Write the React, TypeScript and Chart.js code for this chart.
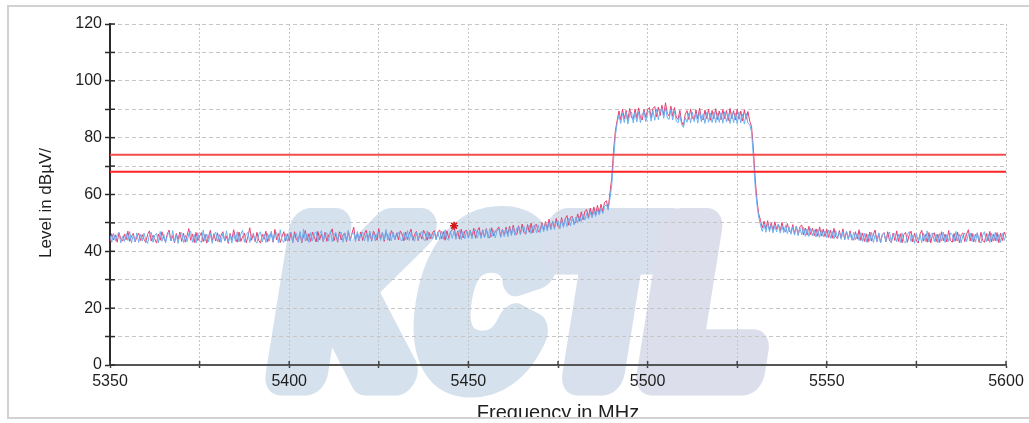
import React, { useEffect, useRef } from 'react';
import { Chart, registerables } from 'chart.js';

Chart.register(...registerables);

// ---- data ----
const FREQ_START_MHZ = 5350;
const FREQ_STEP_MHZ = 0.5;
const X_MIN = 5350;
const X_MAX = 5600;
const X_TICK_STEP = 25;
const X_LABEL_EVERY = 50;
const Y_MIN = 0;
const Y_MAX = 120;
const Y_TICK_STEP = 10;
const Y_LABEL_EVERY = 20;
const X_TITLE = 'Frequency in MHz';
const Y_TITLE = 'Level in dBµV/';
const LIMIT_LEVELS = [74, 68];
const MARKER_FREQ = 5446;
const MARKER_LEVEL = 49;
const WATERMARK_TEXT = 'KCTL';

// pink trace, 0.5 MHz per value, 5350 .. 5600
const TRACE_PINK = [
  43.4, 46.2, 44.0, 45.8, 43.2, 46.6, 44.4, 43.6, 46.0, 44.1, 47.1, 43.5, 45.4, 46.3, 43.3, 45.0, 46.4, 43.8, 45.9, 44.2,
  43.1, 46.0, 47.2, 43.6, 45.7, 44.3, 42.9, 46.1, 43.9, 46.9, 44.6, 43.4, 46.2, 47.5, 43.7, 45.5, 43.0, 46.3, 44.1, 46.8,
  43.5, 46.4, 43.2, 45.6, 48.0, 43.9, 46.1, 43.1, 46.7, 43.8, 45.3, 46.6, 43.4, 46.0, 42.9, 45.2, 47.4, 43.7, 46.2, 43.6,
  46.5, 43.3, 45.7, 46.9, 43.6, 45.4, 42.8, 46.3, 44.0, 47.6, 44.9, 43.2, 46.8, 43.5, 45.1, 46.4, 43.0, 45.3, 48.3, 43.9,
  46.1, 43.4, 46.7, 43.9, 42.9, 46.0, 44.2, 47.1, 43.3, 45.6, 46.5, 43.2, 47.7, 44.0, 46.3, 43.1, 45.2, 46.9, 43.6, 46.2,
  43.7, 46.4, 43.1, 46.9, 44.0, 43.4, 46.6, 43.0, 45.5, 47.3, 43.8, 46.2, 43.5, 46.8, 45.2, 43.3, 47.0, 44.1, 46.1, 43.4,
  46.7, 43.5, 45.8, 46.4, 47.9, 43.7, 46.2, 43.2, 46.9, 44.0, 45.6, 46.5, 43.4, 47.0, 43.9, 46.3, 48.5, 44.2, 46.1, 43.7,
  46.8, 43.8, 46.3, 47.4, 44.0, 46.5, 43.6, 47.1, 45.7, 43.9, 48.0, 44.3, 46.6, 43.5, 46.9, 45.4, 43.8, 47.3, 46.0, 44.1,
  46.5, 44.0, 47.2, 46.0, 43.7, 46.8, 44.2, 46.3, 47.8, 43.9, 45.9, 47.0, 43.8, 46.5, 44.3, 47.4, 46.1, 43.9, 46.7, 44.4,
  46.6, 47.3, 44.2, 46.9, 47.5, 44.4, 47.0, 43.9, 47.2, 44.6, 46.8, 47.6, 49.2, 44.5, 47.1, 44.3, 47.8, 44.7, 47.1, 47.4,
  44.7, 47.5, 45.0, 48.1, 44.6, 47.3, 48.4, 45.0, 47.6, 44.9, 48.0, 45.2, 44.8, 48.3, 45.4, 47.0, 47.7, 48.6, 45.2, 47.8,
  45.6, 48.5, 45.9, 48.8, 46.0, 49.2, 46.4, 45.9, 49.0, 46.2, 49.6, 46.6, 46.1, 49.4, 46.7, 49.9, 46.5, 49.1, 49.5, 46.8,
  47.2, 50.1, 47.5, 50.5, 47.8, 51.3, 48.0, 50.7, 48.2, 51.6, 48.7, 48.3, 51.9, 48.9, 51.5, 52.6, 49.2, 52.0, 52.3, 49.6,
  50.3, 53.2, 50.6, 53.9, 51.1, 54.1, 54.7, 51.8, 55.2, 52.4, 55.6, 52.9, 56.2, 53.4, 56.6, 54.0, 57.2, 57.8, 55.1, 60.5,
  66.0, 75.5, 82.4, 86.0, 89.4, 86.3, 90.0, 86.6, 89.6, 86.1, 90.3, 87.0, 86.4, 90.1, 86.8, 90.5, 87.0, 86.2, 89.9, 87.1,
  89.8, 90.6, 87.0, 90.3, 91.0, 87.4, 90.8, 87.8, 91.4, 88.0, 92.3, 88.5, 87.6, 91.1, 87.5, 90.6, 87.2, 86.4, 89.6, 85.6,
  84.3, 88.2, 89.5, 86.4, 90.1, 86.8, 86.3, 89.8, 86.6, 90.4, 86.9, 86.2, 89.7, 86.7, 90.0, 86.1, 89.6, 86.6, 90.2, 86.4,
  89.4, 86.3, 89.9, 86.7, 89.6, 86.0, 90.3, 86.6, 89.5, 86.2, 90.0, 86.5, 89.4, 85.9, 89.8, 86.5, 89.2, 85.8, 84.0, 76.5,
  66.0, 58.3, 53.2, 50.9, 48.2, 50.6, 47.9, 50.8, 47.6, 50.0, 47.4, 50.4, 47.8, 49.6, 47.2, 50.2, 47.5, 46.9, 49.8, 47.1,
  46.5, 49.4, 46.2, 48.9, 45.9, 48.6, 49.3, 45.8, 48.2, 45.7, 48.8, 45.9, 48.1, 45.5, 47.9, 45.3, 48.6, 45.4, 47.8, 45.2,
  47.8, 44.9, 47.5, 44.6, 48.1, 45.0, 44.5, 47.3, 44.7, 47.9, 44.3, 47.0, 44.2, 47.2, 44.6, 43.9, 46.9, 44.3, 47.6, 43.8,
  46.5, 43.5, 46.2, 43.2, 46.8, 43.6, 46.0, 47.5, 43.4, 46.3, 43.0, 45.9, 46.6, 43.3, 46.9, 43.7, 43.1, 46.4, 43.8, 47.2,
  43.5, 46.2, 43.0, 45.9, 46.7, 43.2, 45.8, 47.1, 43.3, 46.4, 43.7, 42.9, 46.1, 47.4, 43.6, 46.0, 43.2, 46.6, 43.0, 45.9,
  46.5, 43.4, 46.0, 43.1, 46.9, 43.7, 46.1, 43.3, 47.3, 43.8, 43.2, 46.3, 43.6, 46.8, 43.0, 45.9, 46.5, 43.4, 46.0, 47.6,
  43.6, 46.4, 43.3, 45.9, 46.2, 43.1, 46.7, 43.8, 43.2, 46.3, 43.6, 47.0, 43.3, 46.0, 43.7, 46.6, 43.0, 46.4, 43.8, 46.8,
  45.2,
];

// blue trace, 0.5 MHz per value, 5350 .. 5600
const TRACE_BLUE = [
  45.6, 43.2, 46.3, 43.7, 45.9, 46.6, 43.0, 45.4, 43.5, 46.2, 43.8, 46.9, 42.9, 45.8, 43.4, 46.5, 43.1, 46.0, 43.6, 46.4,
  44.0, 42.8, 45.9, 46.7, 43.2, 45.7, 46.3, 43.0, 47.0, 43.5, 46.1, 42.9, 45.6, 46.4, 43.6, 47.3, 43.3, 45.8, 42.8, 46.0,
  46.6, 43.1, 45.7, 43.4, 46.2, 47.1, 43.2, 45.9, 42.9, 46.5, 43.7, 43.1, 47.5, 43.6, 46.1, 43.3, 46.4, 42.8, 45.7, 46.8,
  43.4, 46.0, 43.1, 46.5, 43.7, 47.2, 43.2, 45.9, 42.9, 46.2, 43.5, 46.9, 43.3, 46.1, 47.4, 43.2, 46.0, 46.7, 43.1, 45.8,
  46.4, 43.6, 42.9, 46.0, 46.9, 43.3, 46.1, 43.1, 46.3, 43.7, 47.1, 43.4, 45.9, 46.6, 43.0, 47.6, 43.7, 43.2, 46.2, 43.5,
  46.1, 46.8, 43.2, 45.8, 46.4, 43.4, 47.0, 43.3, 47.9, 43.6, 46.1, 43.1, 46.6, 43.7, 46.2, 46.9, 43.3, 46.0, 47.3, 43.5,
  45.9, 46.5, 43.6, 47.2, 43.3, 46.0, 46.7, 43.6, 46.1, 46.8, 43.2, 46.3, 43.8, 47.4, 43.5, 46.1, 46.6, 43.4, 47.0, 43.9,
  46.1, 46.7, 43.7, 46.3, 43.4, 47.1, 44.0, 46.5, 43.6, 46.2, 46.9, 43.8, 46.6, 44.0, 47.7, 43.9, 46.5, 43.7, 46.8, 44.1,
  46.0, 46.8, 44.1, 43.7, 46.6, 44.0, 47.3, 43.8, 46.5, 44.2, 43.6, 46.7, 44.2, 46.0, 47.0, 44.1, 43.8, 47.2, 44.3, 46.1,
  44.3, 46.9, 44.0, 46.7, 44.1, 47.1, 44.2, 47.6, 44.4, 43.9, 47.0, 44.5, 47.2, 44.2, 46.7, 47.5, 44.1, 46.9, 44.4, 47.1,
  44.6, 47.3, 44.4, 47.1, 47.7, 44.7, 47.2, 44.5, 47.4, 44.8, 47.6, 44.6, 48.0, 45.0, 47.5, 44.7, 47.3, 47.8, 44.9, 47.6,
  45.2, 47.9, 45.1, 48.2, 45.5, 48.4, 45.6, 48.2, 48.7, 45.8, 48.3, 48.9, 46.0, 48.6, 49.1, 46.2, 48.8, 49.2, 46.5, 49.3,
  46.6, 49.5, 46.9, 49.8, 47.2, 50.1, 47.5, 50.5, 47.7, 50.3, 50.8, 47.9, 51.0, 48.4, 51.4, 48.7, 51.6, 49.0, 51.9, 49.3,
  52.1, 49.9, 52.4, 50.5, 53.0, 51.0, 53.3, 51.4, 53.9, 51.8, 54.2, 52.3, 54.7, 52.8, 55.1, 53.3, 55.8, 56.4, 54.5, 58.5,
  63.5, 72.0, 80.6, 85.1, 88.0, 85.0, 88.6, 85.3, 88.9, 84.8, 88.3, 89.0, 85.2, 88.8, 85.5, 89.1, 85.3, 88.5, 89.2, 85.6,
  88.7, 89.4, 85.8, 89.6, 86.1, 90.1, 86.3, 89.8, 90.3, 86.8, 90.5, 86.9, 86.4, 89.9, 86.2, 89.5, 85.8, 85.2, 88.0, 84.6,
  83.6, 87.0, 85.4, 88.7, 85.2, 89.0, 85.6, 88.6, 85.1, 89.2, 85.5, 88.4, 85.0, 88.9, 85.4, 88.7, 85.3, 89.0, 85.2, 88.5,
  85.4, 88.8, 85.1, 89.1, 85.5, 88.4, 85.0, 88.9, 85.3, 88.6, 84.9, 89.0, 85.2, 88.3, 84.8, 88.6, 85.0, 84.6, 82.0, 73.5,
  63.0, 56.5, 52.0, 49.2, 47.0, 49.6, 46.7, 49.9, 46.9, 49.3, 46.5, 49.1, 46.8, 49.5, 46.4, 48.9, 46.6, 49.2, 46.2, 48.7,
  46.0, 48.5, 45.7, 48.8, 45.5, 48.2, 45.8, 48.4, 45.3, 47.9, 45.2, 48.1, 45.4, 47.6, 45.0, 47.8, 44.9, 47.4, 45.1, 47.2,
  44.8, 47.5, 44.6, 47.0, 44.4, 47.3, 44.7, 46.8, 44.2, 46.9, 44.0, 47.1, 44.3, 46.5, 43.9, 46.7, 44.1, 46.3, 43.8, 46.6,
  43.5, 46.4, 43.2, 46.0, 43.6, 46.7, 43.1, 45.9, 43.4, 46.5, 43.0, 45.8, 46.3, 43.3, 45.9, 46.8, 43.2, 45.7, 46.2, 43.4,
  46.0, 43.1, 46.5, 43.5, 42.9, 45.9, 46.9, 43.4, 45.8, 42.8, 46.2, 43.6, 45.9, 43.1, 46.4, 43.5, 47.2, 43.3, 45.8, 46.5,
  43.4, 46.1, 43.0, 46.3, 43.6, 46.8, 43.1, 45.9, 43.5, 46.5, 45.8, 43.3, 47.0, 43.6, 46.1, 43.0, 45.7, 46.4, 43.4, 46.0,
  46.5, 43.5, 46.0, 43.2, 46.6, 43.7, 42.9, 45.8, 46.9, 43.4, 46.2, 43.1, 46.4, 43.6, 46.7, 43.5, 46.0, 43.1, 46.3, 43.8,
  45.9,
];

// ---- styling ----
const FONT = '"Liberation Sans", Arial, Helvetica, sans-serif';
const TEXT_COLOR = '#1e1e1e';
const GRID_COLOR = '#c6c6c6';
const PINK = '#e6406f';
const BLUE = '#6cb0f2';

const toPoints = (levels: number[]) =>
  levels.map((v, i) => ({ x: FREQ_START_MHZ + i * FREQ_STEP_MHZ, y: v }));

const watermarkPlugin = {
  id: 'kctlWatermark',
  beforeDraw(chart: any) {
    const ctx = chart.ctx as CanvasRenderingContext2D;
    const letters = WATERMARK_TEXT.split('');
    const origins = [272, 414, 539, 643];
    const scalesX = [0.85, 0.76, 0.85, 0.85];
    const colors = ['#d6e1ee', '#d6e1ee', '#d8e0ed', '#dcdeeb'];
    const baseline = 373.5;
    ctx.save();
    ctx.font = `bold 210px ${FONT}`;
    ctx.textAlign = 'left';
    ctx.textBaseline = 'alphabetic';
    ctx.lineJoin = 'round';
    ctx.lineWidth = 43;
    letters.forEach((ch, i) => {
      ctx.save();
      ctx.translate(origins[i], baseline);
      ctx.transform(scalesX[i], 0, -0.16, 1, 0, 0);
      ctx.fillStyle = colors[i];
      ctx.strokeStyle = colors[i];
      ctx.strokeText(ch, 0, 0);
      ctx.fillText(ch, 0, 0);
      ctx.restore();
    });
    ctx.restore();
  },
};

const innerTicksPlugin = {
  id: 'innerTicks',
  afterDraw(chart: any) {
    const { ctx, chartArea, scales } = chart;
    const xs = scales.x;
    const ys = scales.y;
    ctx.save();
    ctx.strokeStyle = '#2a2a2a';
    ctx.lineWidth = 1.5;
    ys.ticks.forEach((t: any) => {
      const py = ys.getPixelForValue(t.value);
      ctx.beginPath();
      ctx.moveTo(chartArea.left, py);
      ctx.lineTo(chartArea.left + 5, py);
      ctx.stroke();
    });
    ctx.strokeStyle = '#444';
    xs.ticks.forEach((t: any) => {
      const px = xs.getPixelForValue(t.value);
      ctx.beginPath();
      ctx.moveTo(px, chartArea.bottom);
      ctx.lineTo(px, chartArea.bottom - 4);
      ctx.stroke();
    });
    ctx.restore();
  },
};

export default function App() {
  const canvasRef = useRef<HTMLCanvasElement | null>(null);

  useEffect(() => {
    const canvas = canvasRef.current;
    if (!canvas) return;

    const limitDatasets = LIMIT_LEVELS.map((lvl, i) => ({
      label: `Limit ${lvl}`,
      data: [
        { x: X_MIN, y: lvl },
        { x: X_MAX, y: lvl },
      ],
      borderColor: i === 0 ? '#f24d4d' : '#fb2424',
      borderWidth: 2,
      pointRadius: 0,
      order: 1,
    }));

    const chart = new Chart(canvas, {
      type: 'line',
      data: {
        datasets: [
          {
            label: 'Marker',
            data: [{ x: MARKER_FREQ, y: MARKER_LEVEL }],
            showLine: false,
            pointStyle: 'star',
            pointRadius: 4,
            borderColor: '#d41818',
            backgroundColor: '#d41818',
            pointBorderWidth: 1.6,
            order: 0,
          },
          ...limitDatasets,
          {
            label: 'Trace 2',
            data: toPoints(TRACE_BLUE),
            borderColor: BLUE,
            borderWidth: 1,
            pointRadius: 0,
            tension: 0,
            order: 2,
          },
          {
            label: 'Trace 1',
            data: toPoints(TRACE_PINK),
            borderColor: PINK,
            borderWidth: 1,
            pointRadius: 0,
            tension: 0,
            order: 3,
          },
        ],
      },
      options: {
        responsive: false,
        devicePixelRatio: 1,
        animation: false,
        events: [],
        layout: { padding: { top: 24, right: 23, left: 0, bottom: 0 } },
        plugins: {
          legend: { display: false },
          tooltip: { enabled: false },
        },
        scales: {
          x: {
            type: 'linear',
            min: X_MIN,
            max: X_MAX,
            afterFit: (s: any) => {
              s.height = 58;
            },
            ticks: {
              stepSize: X_TICK_STEP,
              autoSkip: false,
              maxRotation: 0,
              padding: 4,
              color: TEXT_COLOR,
              font: { family: FONT, size: 16 },
              callback: (v: any) => (Number(v) % X_LABEL_EVERY === 0 ? String(v) : ''),
            },
            grid: {
              color: GRID_COLOR,
              lineWidth: 1,
              drawTicks: true,
              tickLength: 3,
              tickColor: '#444',
              tickWidth: 1.5,
            },
            border: { display: true, color: '#555', width: 2, dash: [2, 2] },
            title: {
              display: true,
              text: X_TITLE,
              color: TEXT_COLOR,
              font: { family: FONT, size: 20, lineHeight: 1 },
              padding: { top: 0, bottom: 0 },
            },
          },
          y: {
            type: 'linear',
            min: Y_MIN,
            max: Y_MAX,
            afterFit: (s: any) => {
              s.width = 110;
            },
            ticks: {
              stepSize: Y_TICK_STEP,
              autoSkip: false,
              padding: 3,
              color: TEXT_COLOR,
              font: { family: FONT, size: 16 },
              callback: (v: any) => (Number(v) % Y_LABEL_EVERY === 0 ? String(v) : ''),
            },
            grid: {
              color: GRID_COLOR,
              lineWidth: 1,
              drawTicks: true,
              tickLength: 5,
              tickColor: '#2a2a2a',
              tickWidth: 1.5,
            },
            border: { display: true, color: '#2a2a2a', width: 2, dash: [4, 3] },
            title: {
              display: true,
              text: Y_TITLE + '\u2002\u2002',
              color: TEXT_COLOR,
              font: { family: FONT, size: 17, lineHeight: 1 },
              padding: { top: 38, bottom: 0 },
            },
          },
        },
      },
      plugins: [watermarkPlugin, innerTicksPlugin],
    } as any);

    return () => chart.destroy();
  }, []);

  return (
    <div
      style={{
        position: 'absolute',
        left: 7,
        top: 5,
        width: 1020,
        height: 410,
        border: '2px solid #d2d2d2',
        borderRight: 'none',
        overflow: 'hidden',
        background: '#fff',
      }}
    >
      <canvas
        ref={canvasRef}
        width={1029}
        height={423}
        style={{ position: 'absolute', left: -9, top: -7, width: 1029, height: 423 }}
      />
    </div>
  );
}
